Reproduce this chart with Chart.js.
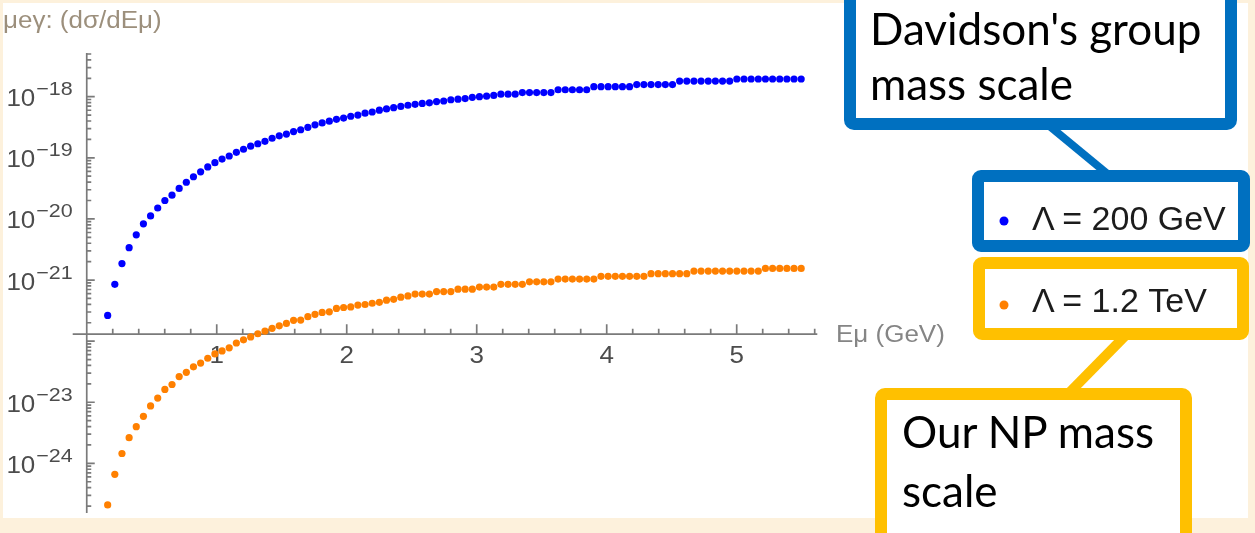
<!DOCTYPE html>
<html>
<head>
<meta charset="utf-8">
<script src="https://cdn.jsdelivr.net/npm/chart.js@4.4.1/dist/chart.umd.min.js"></script>
<style>
  html, body { margin: 0; padding: 0; }
  body { width: 1255px; height: 533px; overflow: hidden; position: relative; background: #fdf1dc; }
  #panel { position: absolute; left: 3px; top: 3px; width: 1245px; height: 515px; background: #ffffff; }
  #plot { position: absolute; left: 0; top: 0; }
  #notes { position: absolute; left: 0; top: 0; }
</style>
</head>
<body>
<div id="panel"></div>
<canvas id="plot" width="1255" height="533"></canvas>
<svg id="notes" width="1255" height="533" viewBox="0 0 1255 533" xmlns="http://www.w3.org/2000/svg">
  <line x1="1047" y1="124" x2="1110" y2="176" stroke="#0070c0" stroke-width="8"/>
  <line x1="1127" y1="334" x2="1068" y2="394" stroke="#ffc000" stroke-width="10"/>
  <rect x="850" y="-8" width="381" height="132" rx="4" fill="#fff" stroke="#0070c0" stroke-width="12"/>
  <rect x="978" y="176" width="266" height="70" rx="3" fill="#fff" stroke="#0070c0" stroke-width="12"/>
  <rect x="979" y="263" width="264" height="71" rx="3" fill="#fff" stroke="#ffc000" stroke-width="12"/>
  <rect x="881" y="394" width="305" height="165" rx="4" fill="#fff" stroke="#ffc000" stroke-width="12"/>
  <g font-family="Lato" font-size="44" fill="#000">
    <text x="870" y="45">Davidson's group</text>
    <text x="870" y="100">mass scale</text>
    <text x="902" y="448">Our NP mass</text>
    <text x="902" y="507">scale</text>
  </g>
  <g id="legend" font-family="Liberation Sans" font-size="34" fill="#1c1c1c"></g>
</svg>
<script>
// Muon energy grid (GeV)
const energies = [
  0.161, 0.216, 0.271, 0.326, 0.381, 0.436, 0.491, 0.546, 0.601, 0.656,
  0.711, 0.766, 0.821, 0.876, 0.931, 0.986, 1.041, 1.096, 1.151, 1.206,
  1.261, 1.316, 1.371, 1.426, 1.481, 1.536, 1.591, 1.646, 1.701, 1.756,
  1.811, 1.866, 1.921, 1.976, 2.031, 2.086, 2.141, 2.196, 2.251, 2.306,
  2.361, 2.416, 2.471, 2.526, 2.581, 2.636, 2.691, 2.746, 2.801, 2.856,
  2.911, 2.966, 3.021, 3.076, 3.131, 3.186, 3.241, 3.296, 3.351, 3.406,
  3.461, 3.516, 3.571, 3.626, 3.681, 3.736, 3.791, 3.846, 3.901, 3.956,
  4.011, 4.066, 4.121, 4.176, 4.231, 4.286, 4.341, 4.396, 4.451, 4.506,
  4.561, 4.616, 4.671, 4.726, 4.781, 4.836, 4.891, 4.946, 5.001, 5.056,
  5.111, 5.166, 5.221, 5.276, 5.331, 5.386, 5.441, 5.496
];

// dσ/dEμ for Λ = 200 GeV
const sigmaLambda200 = [
  2.63e-22, 8.51e-22, 1.86e-21, 3.39e-21, 5.50e-21, 8.32e-21, 1.12e-20, 1.51e-20, 2.00e-20, 2.45e-20,
  3.16e-20, 3.98e-20, 4.90e-20, 5.89e-20, 7.08e-20, 8.32e-20, 9.55e-20, 1.07e-19, 1.23e-19, 1.38e-19,
  1.55e-19, 1.70e-19, 1.86e-19, 2.09e-19, 2.29e-19, 2.45e-19, 2.69e-19, 2.88e-19, 3.16e-19, 3.47e-19,
  3.72e-19, 3.98e-19, 4.27e-19, 4.47e-19, 4.79e-19, 5.01e-19, 5.37e-19, 5.62e-19, 6.03e-19, 6.31e-19,
  6.61e-19, 6.92e-19, 7.24e-19, 7.50e-19, 7.76e-19, 7.94e-19, 8.32e-19, 8.51e-19, 8.91e-19, 9.12e-19,
  9.33e-19, 9.77e-19, 1.00e-18, 1.02e-18, 1.05e-18, 1.10e-18, 1.10e-18, 1.10e-18, 1.17e-18, 1.17e-18,
  1.17e-18, 1.17e-18, 1.17e-18, 1.30e-18, 1.30e-18, 1.30e-18, 1.30e-18, 1.30e-18, 1.46e-18, 1.46e-18,
  1.46e-18, 1.46e-18, 1.46e-18, 1.46e-18, 1.58e-18, 1.58e-18, 1.58e-18, 1.58e-18, 1.58e-18, 1.58e-18,
  1.80e-18, 1.80e-18, 1.80e-18, 1.80e-18, 1.80e-18, 1.80e-18, 1.80e-18, 1.80e-18, 1.95e-18, 1.95e-18,
  1.95e-18, 1.95e-18, 1.95e-18, 1.95e-18, 1.95e-18, 1.95e-18, 1.95e-18, 1.95e-18
];

// dσ/dEμ for Λ = 1.2 TeV
const sigmaLambda1200 = [
  2.09e-25, 6.61e-25, 1.45e-24, 2.63e-24, 3.98e-24, 5.89e-24, 8.71e-24, 1.17e-23, 1.62e-23, 1.95e-23,
  2.63e-23, 3.09e-23, 3.80e-23, 4.37e-23, 5.25e-23, 6.17e-23, 6.92e-23, 7.76e-23, 9.33e-23, 1.05e-22,
  1.17e-22, 1.32e-22, 1.46e-22, 1.62e-22, 1.78e-22, 1.95e-22, 2.19e-22, 2.21e-22, 2.51e-22, 2.75e-22,
  2.95e-22, 3.02e-22, 3.43e-22, 3.55e-22, 3.63e-22, 3.89e-22, 3.98e-22, 4.17e-22, 4.32e-22, 4.68e-22,
  4.84e-22, 5.25e-22, 5.50e-22, 5.89e-22, 5.89e-22, 5.89e-22, 6.46e-22, 6.46e-22, 6.46e-22, 7.08e-22,
  7.08e-22, 7.08e-22, 7.67e-22, 7.67e-22, 7.67e-22, 8.51e-22, 8.51e-22, 8.51e-22, 8.51e-22, 9.33e-22,
  9.33e-22, 9.33e-22, 9.33e-22, 1.035e-21, 1.035e-21, 1.035e-21, 1.035e-21, 1.035e-21, 1.035e-21, 1.15e-21,
  1.15e-21, 1.15e-21, 1.15e-21, 1.15e-21, 1.15e-21, 1.15e-21, 1.27e-21, 1.27e-21, 1.27e-21, 1.27e-21,
  1.27e-21, 1.27e-21, 1.40e-21, 1.40e-21, 1.40e-21, 1.40e-21, 1.40e-21, 1.40e-21, 1.40e-21, 1.40e-21,
  1.40e-21, 1.40e-21, 1.55e-21, 1.55e-21, 1.55e-21, 1.55e-21, 1.55e-21, 1.55e-21
];

const seriesLabels = ['Λ = 200 GeV', 'Λ = 1.2 TeV'];
const seriesColors = ['#0000ff', '#ff8000'];

// Axis ticks and labels
const xTickValues = [1, 2, 3, 4, 5];
const yTickExponents = [-24, -23, -21, -20, -19, -18];
const axisCrossing = 1.3e-22;   // where the energy axis meets the log axis
const plotTitle = 'μeγ: (dσ/dEμ)';
const xAxisTitle = 'Eμ (GeV)';

const AXIS_COLOR = '#7a7a7a';
const LABEL_COLOR = '#4c4c4c';
const STRETCH = 1.13;
const FONT = '"Liberation Sans", Arial, sans-serif';

function wideText(ctx, str, x, y, size, color, align) {
  ctx.save();
  ctx.font = size + 'px ' + FONT;
  ctx.fillStyle = color;
  ctx.textBaseline = 'alphabetic';
  ctx.textAlign = 'left';
  const w = ctx.measureText(str).width * STRETCH;
  let left = x;
  if (align === 'right') left = x - w;
  else if (align === 'center') left = x - w / 2;
  ctx.translate(left, y);
  ctx.scale(STRETCH, 1);
  ctx.fillText(str, 0, 0);
  ctx.restore();
  return w;
}

// Crossing axes with inward ticks, drawn under the points
const crossedAxes = {
  id: 'crossedAxes',
  beforeDatasetsDraw(chart) {
    const ctx = chart.ctx;
    const xs = chart.scales.x, ys = chart.scales.y;
    const x0 = xs.getPixelForValue(0);
    const yAx = ys.getPixelForValue(axisCrossing);

    ctx.save();
    ctx.strokeStyle = AXIS_COLOR;
    ctx.lineWidth = 1.7;
    ctx.beginPath();
    ctx.moveTo(x0, ys.top); ctx.lineTo(x0, ys.bottom);
    ctx.moveTo(xs.left, yAx); ctx.lineTo(xs.right, yAx);

    for (let n = -25; n <= -18; n++) {
      for (let m = 1; m <= 9; m++) {
        const v = m * Math.pow(10, n);
        if (v < ys.min || v > ys.max) continue;
        const py = ys.getPixelForValue(v);
        ctx.moveTo(x0, py);
        ctx.lineTo(x0 + (m === 1 ? 8 : 4.5), py);
      }
    }
    for (let i = 1; i * 0.2 <= xs.max + 1e-9; i++) {
      const px = xs.getPixelForValue(i * 0.2);
      ctx.moveTo(px, yAx);
      ctx.lineTo(px, yAx - (i % 5 === 0 ? 10 : 5.5));
    }
    ctx.stroke();
    ctx.restore();

    xTickValues.forEach(v => {
      wideText(ctx, String(v), xs.getPixelForValue(v), yAx + 29, 23, LABEL_COLOR, 'center');
    });
    yTickExponents.forEach(n => {
      const py = ys.getPixelForValue(Math.pow(10, n));
      const supW = wideText(ctx, '\u2212' + Math.abs(n), x0 - 14, py - 1.5, 19, LABEL_COLOR, 'right');
      wideText(ctx, '10', x0 - 15 - supW, py + 9.5, 23, LABEL_COLOR, 'right');
    });

    wideText(ctx, plotTitle, 3, 28, 23, '#9c8f7c', 'left');
    wideText(ctx, xAxisTitle, 836, yAx + 8, 23, '#858585', 'left');
  }
};

const chart = new Chart(document.getElementById('plot'), {
  type: 'scatter',
  data: {
    datasets: [
      {
        label: seriesLabels[0],
        data: energies.map((e, i) => ({ x: e, y: sigmaLambda200[i] })),
        backgroundColor: seriesColors[0],
        borderWidth: 0,
        pointRadius: 3.6,
        pointHoverRadius: 3.6
      },
      {
        label: seriesLabels[1],
        data: energies.map((e, i) => ({ x: e, y: sigmaLambda1200[i] })),
        backgroundColor: seriesColors[1],
        borderWidth: 0,
        pointRadius: 3.6,
        pointHoverRadius: 3.6
      }
    ]
  },
  options: {
    responsive: false,
    animation: false,
    devicePixelRatio: 1,
    events: [],
    layout: { padding: { left: 72.7, right: 437.7, top: 53, bottom: 20 } },
    scales: {
      x: { type: 'linear', min: -0.108, max: 5.62, display: false },
      y: { type: 'logarithmic', min: 1.54e-25, max: 5.19e-18, display: false }
    },
    plugins: { legend: { display: false }, tooltip: { enabled: false } }
  },
  plugins: [crossedAxes]
});

// Legend entries inside the callout boxes
const legendRows = [{ cy: 221, base: 230 }, { cy: 305, base: 312 }];
const svgNS = 'http://www.w3.org/2000/svg';
const legendGroup = document.getElementById('legend');
chart.data.datasets.forEach((ds, i) => {
  const dot = document.createElementNS(svgNS, 'circle');
  dot.setAttribute('cx', 1004);
  dot.setAttribute('cy', legendRows[i].cy);
  dot.setAttribute('r', 4.5);
  dot.setAttribute('fill', ds.backgroundColor);
  legendGroup.appendChild(dot);
  const t = document.createElementNS(svgNS, 'text');
  t.setAttribute('x', 1032);
  t.setAttribute('y', legendRows[i].base);
  t.textContent = ds.label;
  legendGroup.appendChild(t);
});
</script>
</body>
</html>
